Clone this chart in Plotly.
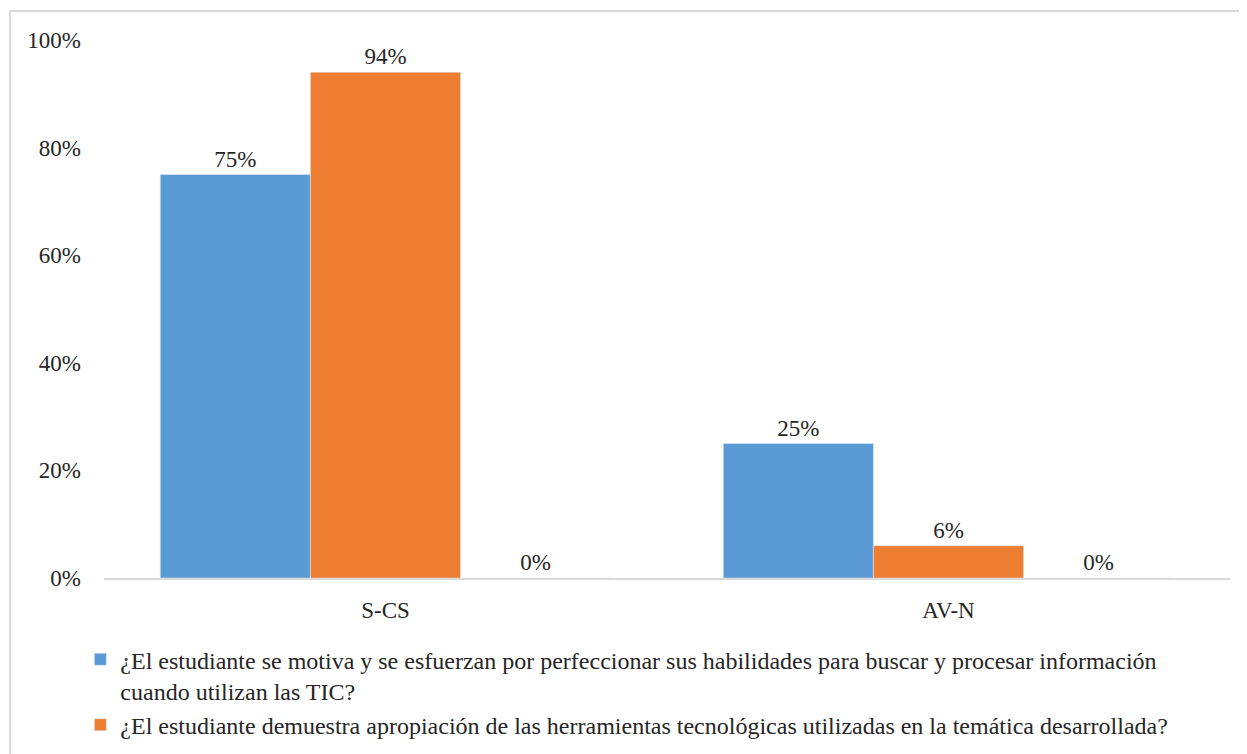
import plotly.graph_objects as go

categorias = ["S-CS", "AV-N"]
serie_motiva = [75, 25]
serie_apropiacion = [94, 6]
serie_otra = [0, 0]
nombre_motiva = ("¿El estudiante se motiva y se esfuerzan por perfeccionar sus habilidades para buscar y procesar información<br>"
                 "cuando utilizan las TIC?")
nombre_apropiacion = "¿El estudiante demuestra apropiación de las herramientas tecnológicas utilizadas en la temática desarrollada?"
ticks_y = [0, 20, 40, 60, 80, 100]
ticks_y_txt = ["0%", "20%", "40%", "60%", "80%", "100%"]

fuente = "Liberation Serif, Times New Roman, serif"
tam = 23

fig = go.Figure()
fig.add_trace(go.Bar(
    x=categorias, y=serie_motiva, name=nombre_motiva,
    marker=dict(color="#5b9bd5"), legendgroup="a",
    text=[f"{v}%" for v in serie_motiva], textposition="outside",
    textfont=dict(family=fuente, size=tam, color="#262626"), cliponaxis=False,
))
fig.add_trace(go.Bar(
    x=categorias, y=serie_apropiacion, name=nombre_apropiacion,
    marker=dict(color="#ed7d31"), legendgroup="b",
    text=[f"{v}%" for v in serie_apropiacion], textposition="outside",
    textfont=dict(family=fuente, size=tam, color="#262626"), cliponaxis=False,
))
fig.add_trace(go.Bar(
    x=categorias, y=serie_otra, name="",
    marker=dict(color="#a5a5a5"), showlegend=False,
    text=[f"{v}%" for v in serie_otra], textposition="outside",
    textfont=dict(family=fuente, size=tam, color="#262626"), cliponaxis=False,
))

# la página tiene 8px de margen propio: figura algo más pequeña que la ventana
fig.update_layout(
    width=1239, height=746,
    margin=dict(l=96, r=17, t=32, b=176, autoexpand=False),
    paper_bgcolor="white", plot_bgcolor="white",
    barmode="group", bargap=0.2, bargroupgap=0,
    font=dict(family=fuente, size=tam, color="#262626"),
    legend=dict(
        x=-0.021, y=-0.11, xanchor="left", yanchor="top",
        orientation="v", traceorder="grouped", tracegroupgap=0,
        font=dict(family=fuente, size=24, color="#262626"),
        itemwidth=30, valign="top", bgcolor="rgba(0,0,0,0)",
    ),
    shapes=[
        dict(type="line", xref="paper", yref="paper", x0=-0.0835, x1=1.02, y0=1.054, y1=1.054,
             line=dict(color="#d9d9d9", width=2)),
        dict(type="line", xref="paper", yref="paper", x0=-0.0835, x1=-0.0835, y0=1.054, y1=-0.35,
             line=dict(color="#d9d9d9", width=2)),
    ],
)
fig.update_yaxes(
    range=[0, 100], tickvals=ticks_y, ticktext=ticks_y_txt,
    showgrid=False, zeroline=False, showline=False,
    ticklabelstandoff=22, tickfont=dict(size=tam),
)
fig.update_xaxes(
    showline=True, linecolor="#d9d9d9", linewidth=2,
    ticklabelstandoff=10, tickfont=dict(size=tam),
)

fig.write_html("out.html")
